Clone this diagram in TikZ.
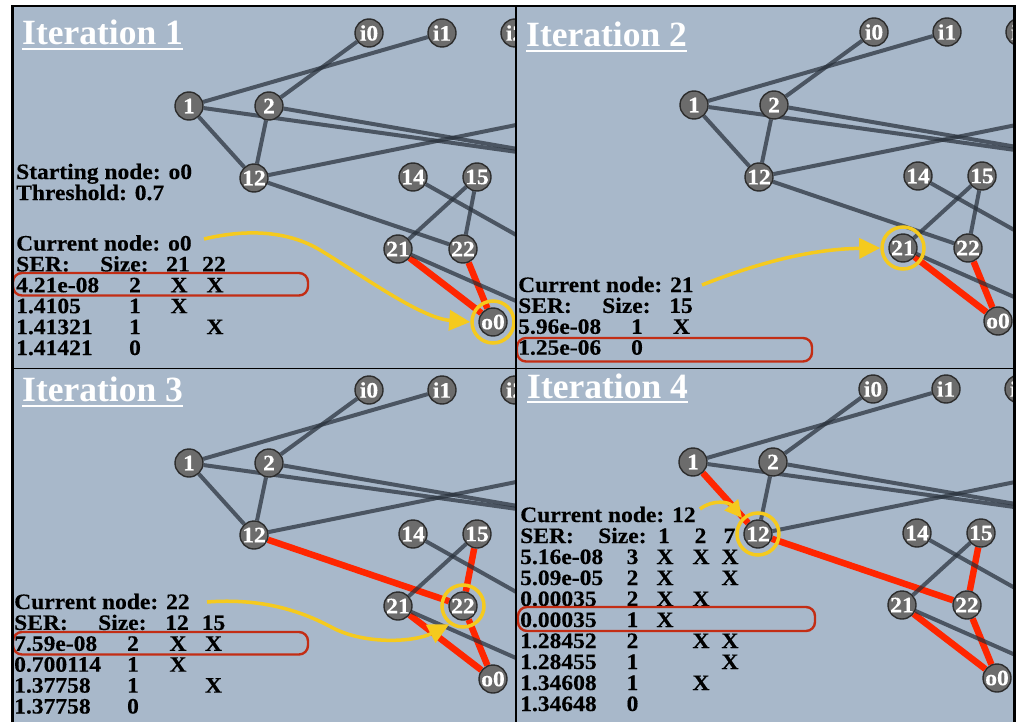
\documentclass[tikz,border=0pt]{standalone}
\usepackage{fontspec}
\setmainfont{Liberation Serif}
\newfontfamily\bodyfont[FakeStretch=1.07,FakeBold=0.3]{Liberation Serif}
\usetikzlibrary{arrows.meta}
\pgfdeclarelayer{bglayer}
\pgfdeclarelayer{edgelayer}
\pgfsetlayers{bglayer,edgelayer,main}

\definecolor{panelbg}{RGB}{168,184,202}
\definecolor{nodefill}{RGB}{108,108,108}
\definecolor{nodeline}{RGB}{45,45,45}
\definecolor{edgegray}{RGB}{40,48,58}
\definecolor{pathred}{RGB}{255,38,0}
\definecolor{markyellow}{RGB}{245,202,30}
\definecolor{rowred}{RGB}{195,45,20}

\tikzset{
  gnode/.style={circle, minimum size=28pt, inner sep=0pt, fill=nodefill,
    draw=nodeline, line width=1.4pt, text=white,
    font=\fontsize{22}{22}\selectfont\bodyfont\bfseries},
  gedge/.style={draw=edgegray, line width=4pt, opacity=0.72},
  redge/.style={draw=pathred, line width=6.5pt},
  ring/.style={circle, minimum size=42pt, inner sep=0pt, draw=markyellow, line width=3.5pt},
  pointer/.style={draw=markyellow, line width=3.5pt, -{Triangle[length=21pt,width=20pt]}},
  shortpointer/.style={draw=markyellow, line width=3.5pt, -{Triangle[length=17pt,width=17pt]}},
  rowbox/.style={draw=rowred, line width=2.4pt, rounded corners=9pt},
  txt/.style={anchor=base west, inner sep=0pt, font=\fontsize{22}{22}\selectfont\bodyfont\bfseries},
  cell/.style={anchor=base, inner sep=0pt, font=\fontsize{22}{22}\selectfont\bodyfont\bfseries},
  title/.style={anchor=base west, inner sep=0pt, text=white,
    font=\fontsize{35.5}{36}\selectfont\bfseries},
  underl/.style={draw=white, line width=2.3pt},
  frame/.style={draw=black, line width=2.6pt},
  divider/.style={draw=black, line width=1.6pt}
}

% the network of one panel; #1 = name prefix, #2/#3 = offset
\newcommand\drawnetwork[3]{%
  \begin{scope}[shift={(#2,#3)}]
    \node[gnode] (#1i0) at (369,33) {i0};
    \node[gnode] (#1i1) at (442,33) {i1};
    \node[gnode] (#1i2) at (515,33) {i2};
    \node[gnode] (#1n1) at (189,106) {1};
    \node[gnode] (#1n2) at (269,106) {2};
    \node[gnode] (#1n12) at (254,178) {12};
    \node[gnode] (#1n14) at (413,177) {14};
    \node[gnode] (#1n15) at (477,177) {15};
    \node[gnode] (#1n21) at (398,249) {21};
    \node[gnode] (#1n22) at (463,249) {22};
    \node[gnode] (#1o0) at (493,322) {o0};
    \coordinate (#1far1) at (610,165);
    \coordinate (#1far2) at (620,104);
    \coordinate (#1far3) at (600,282);
    \coordinate (#1far4) at (600,338);
  \end{scope}}

\newcommand\grayedges[2]{%
  \foreach \u/\v in {#2} {\draw[gedge] (#1\u) -- (#1\v);}}
\newcommand\rededges[2]{%
  \foreach \u/\v in {#2} {\draw[redge] (#1\u) -- (#1\v);}}

\begin{document}
\begin{tikzpicture}[x=1pt, y=-1pt]
\useasboundingbox (0,0) rectangle (1024,722);

\begin{pgfonlayer}{bglayer}
  \fill[panelbg] (12,6) rectangle (1014,722);
\end{pgfonlayer}

% ---------- networks ----------
\begin{scope}
  \clip (14,7) rectangle (515.8,368.3);
  \drawnetwork{ga}{0}{0}
\end{scope}
\begin{scope}
  \clip (515.8,7) rectangle (1013,368.3);
  \drawnetwork{gb}{505}{-1}
\end{scope}
\begin{scope}
  \clip (14,368.3) rectangle (515.8,722);
  \drawnetwork{gc}{0}{357}
\end{scope}
\begin{scope}
  \clip (515.8,368.3) rectangle (1013,722);
  \drawnetwork{gd}{504}{356}
\end{scope}

\begin{pgfonlayer}{edgelayer}
  \begin{scope}
    \clip (14,7) rectangle (515.8,368.3);
    \rededges{ga}{n21/o0, n22/o0}
    \grayedges{ga}{i1/n1, i0/n2, n2/n12, n1/far1, n2/far1, n12/far2, n14/far3, n15/n21, n21/far4, n1/n12, n12/n22, n15/n22}
  \end{scope}
  \begin{scope}
    \clip (515.8,7) rectangle (1013,368.3);
    \rededges{gb}{n21/o0, n22/o0}
    \grayedges{gb}{i1/n1, i0/n2, n2/n12, n1/far1, n2/far1, n12/far2, n14/far3, n15/n21, n21/far4, n1/n12, n12/n22, n15/n22}
  \end{scope}
  \begin{scope}
    \clip (14,368.3) rectangle (515.8,722);
    \rededges{gc}{n21/o0, n22/o0, n12/n22, n15/n22}
    \grayedges{gc}{i1/n1, i0/n2, n2/n12, n1/far1, n2/far1, n12/far2, n14/far3, n15/n21, n21/far4, n1/n12}
  \end{scope}
  \begin{scope}
    \clip (515.8,368.3) rectangle (1013,722);
    \rededges{gd}{n21/o0, n22/o0, n12/n22, n15/n22, n1/n12}
    \grayedges{gd}{i1/n1, i0/n2, n2/n12, n1/far1, n2/far1, n12/far2, n14/far3, n15/n21, n21/far4}
  \end{scope}
\end{pgfonlayer}

% ---------- highlight rings ----------
\node[ring] (hla) at (gao0) {};
\node[ring] (hlb) at (gbn21) {};
\node[ring] (hlc) at (gcn22) {};
\node[ring] (hld) at (gdn12) {};

% ---------- titles ----------
\node[title] (t1) at (22,45) {Iteration 1};
\node[title] (t2) at (526,46.7) {Iteration 2};
\node[title] (t3) at (22,401.7) {Iteration 3};
\node[title] (t4) at (527,398) {Iteration 4};
\foreach \t in {t1,t2,t3,t4}
  \draw[underl] ([yshift=-4.3pt]\t.base west) -- ([yshift=-4.3pt]\t.base east);

% ---------- iteration 1 table ----------
\node[txt] (ta1) at (16,179) {Starting node: o0};
\node[txt] (ta2) at (16,200) {Threshold: 0.7};
\node[txt] (ta3) at (16,250.5) {Current node: o0};
\node[txt] (ta4) at (16,271.4) {SER:};
\node[txt] (ta5) at (100,271.4) {Size:};
\node[cell] (ta6) at (178,271.4) {21};
\node[cell] (ta7) at (214,271.4) {22};
\node[txt] (ta8) at (16,292.3) {4.21e-08};
\node[cell] (ta9) at (135,292.3) {2};
\node[cell] (ta10) at (179,292.3) {X};
\node[cell] (ta11) at (215,292.3) {X};
\node[txt] (ta12) at (16,313.2) {1.4105};
\node[cell] (ta13) at (135,313.2) {1};
\node[cell] (ta14) at (179,313.2) {X};
\node[txt] (ta15) at (16,334.1) {1.41321};
\node[cell] (ta16) at (135,334.1) {1};
\node[cell] (ta17) at (215,334.1) {X};
\node[txt] (ta18) at (16,355) {1.41421};
\node[cell] (ta19) at (135,355) {0};

% ---------- iteration 2 table ----------
\node[txt] (tb1) at (518,292) {Current node: 21};
\node[txt] (tb2) at (518,312.9) {SER:};
\node[txt] (tb3) at (602,312.9) {Size:};
\node[cell] (tb4) at (681,312.9) {15};
\node[txt] (tb5) at (518,333.8) {5.96e-08};
\node[cell] (tb6) at (637,333.8) {1};
\node[cell] (tb7) at (681.5,333.8) {X};
\node[txt] (tb8) at (518,354.7) {1.25e-06};
\node[cell] (tb9) at (637,354.7) {0};

% ---------- iteration 3 table ----------
\node[txt] (tc1) at (14,609) {Current node: 22};
\node[txt] (tc2) at (14,629.9) {SER:};
\node[txt] (tc3) at (98,629.9) {Size:};
\node[cell] (tc4) at (177,629.9) {12};
\node[cell] (tc5) at (213.5,629.9) {15};
\node[txt] (tc6) at (14,650.8) {7.59e-08};
\node[cell] (tc7) at (133,650.8) {2};
\node[cell] (tc8) at (178,650.8) {X};
\node[cell] (tc9) at (213.5,650.8) {X};
\node[txt] (tc10) at (14,671.7) {0.700114};
\node[cell] (tc11) at (133,671.7) {1};
\node[cell] (tc12) at (178,671.7) {X};
\node[txt] (tc13) at (14,692.6) {1.37758};
\node[cell] (tc14) at (133,692.6) {1};
\node[cell] (tc15) at (213.5,692.6) {X};
\node[txt] (tc16) at (14,713.5) {1.37758};
\node[cell] (tc17) at (133,713.5) {0};

% ---------- iteration 4 table ----------
\node[txt] (td1) at (520,522) {Current node: 12};
\node[txt] (td2) at (520,543) {SER:};
\node[txt] (td3) at (598,543) {Size:};
\node[cell] (td4) at (664,543) {1};
\node[cell] (td5) at (700.5,543) {2};
\node[cell] (td6) at (729.5,543) {7};
\node[txt] (td7) at (520,564) {5.16e-08};
\node[cell] (td8) at (632.5,564) {3};
\node[cell] (td9) at (665,564) {X};
\node[cell] (td10) at (701,564) {X};
\node[cell] (td11) at (730,564) {X};
\node[txt] (td12) at (520,585) {5.09e-05};
\node[cell] (td13) at (632.5,585) {2};
\node[cell] (td14) at (665,585) {X};
\node[cell] (td15) at (730,585) {X};
\node[txt] (td16) at (520,606) {0.00035};
\node[cell] (td17) at (632.5,606) {2};
\node[cell] (td18) at (665,606) {X};
\node[cell] (td19) at (701,606) {X};
\node[txt] (td20) at (520,627) {0.00035};
\node[cell] (td21) at (632.5,627) {1};
\node[cell] (td22) at (665,627) {X};
\node[txt] (td23) at (520,648) {1.28452};
\node[cell] (td24) at (632.5,648) {2};
\node[cell] (td25) at (701,648) {X};
\node[cell] (td26) at (730,648) {X};
\node[txt] (td27) at (520,669) {1.28455};
\node[cell] (td28) at (632.5,669) {1};
\node[cell] (td29) at (730,669) {X};
\node[txt] (td30) at (520,690) {1.34608};
\node[cell] (td31) at (632.5,690) {1};
\node[cell] (td32) at (701,690) {X};
\node[txt] (td33) at (520,711) {1.34648};
\node[cell] (td34) at (632.5,711) {0};

% ---------- selected rows ----------
\draw[rowbox] (13,273) rectangle (308,295.5);
\draw[rowbox] (517,338) rectangle (812,361.5);
\draw[rowbox] (13,632) rectangle (308,654.5);
\draw[rowbox] (518,607) rectangle (815,631);

% ---------- pointers to the current node ----------
\coordinate (pa) at (204,239);
\coordinate (pb) at (702,285);
\coordinate (pc) at (207,602);
\coordinate (pd) at (700,509);
\draw[pointer] (pa) .. controls (250,228) and (290,232) .. (320,250)
  .. controls (360,274) and (420,318) .. (hla.west);
\draw[pointer] (pb) .. controls (770,258) and (820,249) .. (hlb.west);
\draw[pointer] (pc) .. controls (260,598) and (300,610) .. (333,628)
  .. controls (366,645) and (415,642) .. (hlc.233);
\draw[shortpointer] (pd) .. controls (713,499) and (729,502) .. (hld.135);

% ---------- frames ----------
\draw[frame] (12.5,722) -- (12.5,6) -- (1014.3,6) -- (1014.3,722);
\draw[divider] (515.8,6) -- (515.8,722);
\draw[divider] (12.5,368.3) -- (1014.3,368.3);
\end{tikzpicture}
\end{document}
